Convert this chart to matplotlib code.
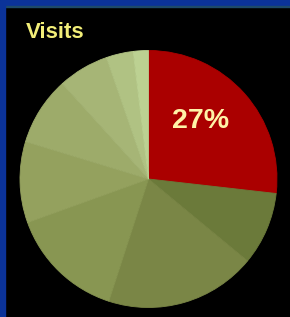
import matplotlib
matplotlib.use("Agg")
import matplotlib.pyplot as plt
from matplotlib.patches import Rectangle

title = "Visits"
values = [26.8, 9.2, 19.0, 14.5, 10.2, 8.6, 6.4, 3.4, 1.9]
colors = ["#aa0000", "#6b7a3a", "#7a8646", "#889652", "#94a15e",
          "#9dab6a", "#a6b576", "#b0c283", "#bcd192"]
label_text = "27%"

W, H = 290, 317
fig = plt.figure(figsize=(W / 100, H / 100), dpi=100)
fig.patch.set_facecolor("black")
ax = fig.add_axes([0, 0, 1, 1])
ax.set_facecolor("black")

cx, cy, r = 148.5, H - 179, 128.5
wedges, _ = ax.pie(values, colors=colors, startangle=90, counterclock=False,
                   center=(cx, cy), radius=r, wedgeprops=dict(linewidth=0.6))
for w, c in zip(wedges, colors):
    w.set_edgecolor(c)
ax.set_aspect("auto")
ax.set_xlim(0, W)
ax.set_ylim(0, H)
ax.axis("off")

# blue frame (top and left)
ax.add_patch(Rectangle((0, H - 5.5), W, 5.5, color="#0b3399", zorder=5))
ax.add_patch(Rectangle((0, H - 6.5), W, 1, color="#1d4a6a", zorder=5))
ax.add_patch(Rectangle((0, 0), 5, H, color="#0b3399", zorder=5))

ax.text(26, H - 37.5, title, color="#f2ee78", fontsize=16, fontweight="bold",
        family=["Liberation Sans", "DejaVu Sans"], ha="left", va="baseline")
ax.text(200.5, H - 121, label_text, color="#fff3a8", fontsize=20.5, fontweight="bold",
        family=["Liberation Sans", "DejaVu Sans"], ha="center", va="center")

fig.savefig("out.png", dpi=100, facecolor="black")
